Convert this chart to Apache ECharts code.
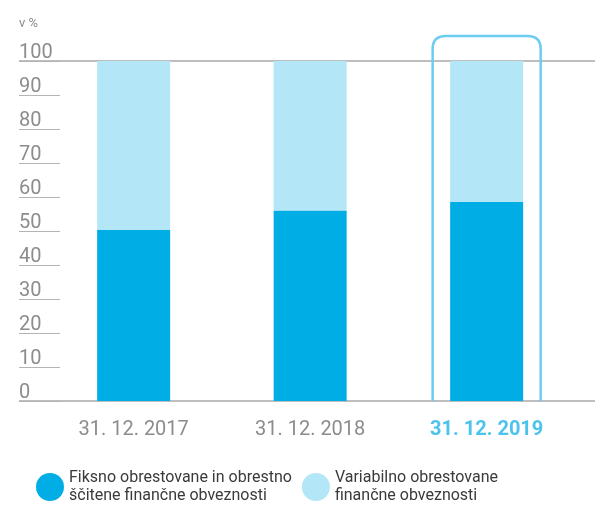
<!DOCTYPE html>
<html>
<head>
<meta charset="utf-8">
<script src="https://cdn.jsdelivr.net/npm/echarts@6/dist/echarts.min.js"></script>
<style>
  html, body { margin: 0; padding: 0; background: #fff; }
  #chart { width: 595px; height: 505px; }
</style>
</head>
<body>
<div id="chart"></div>
<script>
// podatki, odčitani s slike
var categories = ['31. 12. 2017', '31. 12. 2018', '31. 12. 2019'];
var fixedRate = [50.3, 56.0, 58.6];     // fiksno obrestovane + ščitene
var variableRate = [49.7, 44.0, 41.4];  // variabilno obrestovane
var seriesNames = [
    'Fiksno obrestovane in obrestno\nščitene finančne obveznosti',
    'Variabilno obrestovane\nfinančne obveznosti'
];
var highlightIndex = 2;

var DARK = '#00aee5';
var LIGHT = '#b3e6f6';
var BOX = '#6dcdf1';
var GREY = '#8c8c8c';

// okvir okoli izpostavljenega stolpca
function renderBox(params, api) {
    var bottom = api.coord([api.value(0), 0]);
    var y100 = api.coord([api.value(0), 100])[1];
    var cx = bottom[0], y0 = bottom[1];
    var x0 = cx - 54, x1 = cx + 54, top = y100 - 25, r = 13;
    var d = 'M' + x0 + ' ' + y0 + ' L' + x0 + ' ' + (top + r) +
        ' Q' + x0 + ' ' + top + ' ' + (x0 + r) + ' ' + top +
        ' L' + (x1 - r) + ' ' + top +
        ' Q' + x1 + ' ' + top + ' ' + x1 + ' ' + (top + r) +
        ' L' + x1 + ' ' + y0;
    return {
        type: 'path',
        shape: { pathData: d, x: x0, y: top, width: x1 - x0, height: y0 - top },
        style: { fill: 'none', stroke: BOX, lineWidth: 2.5 },
        z2: 1
    };
}

var chart = echarts.init(document.getElementById('chart'));

var option = {
    animation: false,
    textStyle: { fontFamily: 'Roboto' },
    grid: [
        { left: 45.4, right: 20.1, top: 61, bottom: 104 },
        { left: 19, right: 0, top: 61, bottom: 104 }
    ],
    legend: {
        left: 31,
        top: 464,
        icon: 'circle',
        itemWidth: 28,
        itemHeight: 28,
        itemGap: 10,
        textStyle: { fontSize: 16, lineHeight: 18, color: '#3a3a3a', fontFamily: 'Roboto' },
        data: seriesNames
    },
    xAxis: [
        {
            type: 'category',
            data: categories,
            axisLine: { show: false },
            axisTick: { show: false },
            axisLabel: {
                interval: 0,
                margin: 19,
                fontSize: 20,
                color: GREY,
                formatter: function (v, i) {
                    return i === highlightIndex ? '{hl|' + v + '}' : v;
                },
                rich: {
                    hl: { fontSize: 20, fontWeight: 'bold', color: '#4cc3ec', fontFamily: 'Roboto' }
                }
            }
        },
        { type: 'value', gridIndex: 1, min: 0, max: 1, show: false }
    ],
    yAxis: [
        {
            type: 'value',
            min: 0,
            max: 100,
            interval: 10,
            offset: 26.4,
            name: 'v %',
            nameLocation: 'end',
            nameGap: 31,
            nameTextStyle: { align: 'left', color: GREY, fontSize: 13 },
            axisLine: { show: false },
            splitLine: { show: false },
            axisTick: { show: true, inside: true, length: 41, lineStyle: { color: '#b4b4b4', width: 1 } },
            axisLabel: {
                inside: true,
                margin: 0,
                align: 'left',
                verticalAlign: 'bottom',
                lineHeight: 17,
                fontSize: 20,
                color: GREY
            }
        },
        {
            // polni črti pri 0 in 100 čez celo širino
            type: 'value',
            gridIndex: 1,
            min: 0,
            max: 100,
            interval: 100,
            axisLine: { show: false },
            axisTick: { show: false },
            axisLabel: { show: false },
            splitLine: { show: true, lineStyle: { color: '#a8a8a8', width: 1.5 } }
        }
    ],
    series: [
        {
            name: seriesNames[0],
            type: 'bar',
            stack: 'total',
            barWidth: 73,
            itemStyle: { color: DARK },
            data: fixedRate
        },
        {
            name: seriesNames[1],
            type: 'bar',
            stack: 'total',
            barWidth: 73,
            itemStyle: { color: LIGHT },
            data: variableRate
        },
        {
            type: 'custom',
            name: 'okvir',
            clip: false,
            silent: true,
            renderItem: renderBox,
            data: [[highlightIndex]],
            z: 1
        }
    ]
};

chart.setOption(option);
</script>
</body>
</html>
